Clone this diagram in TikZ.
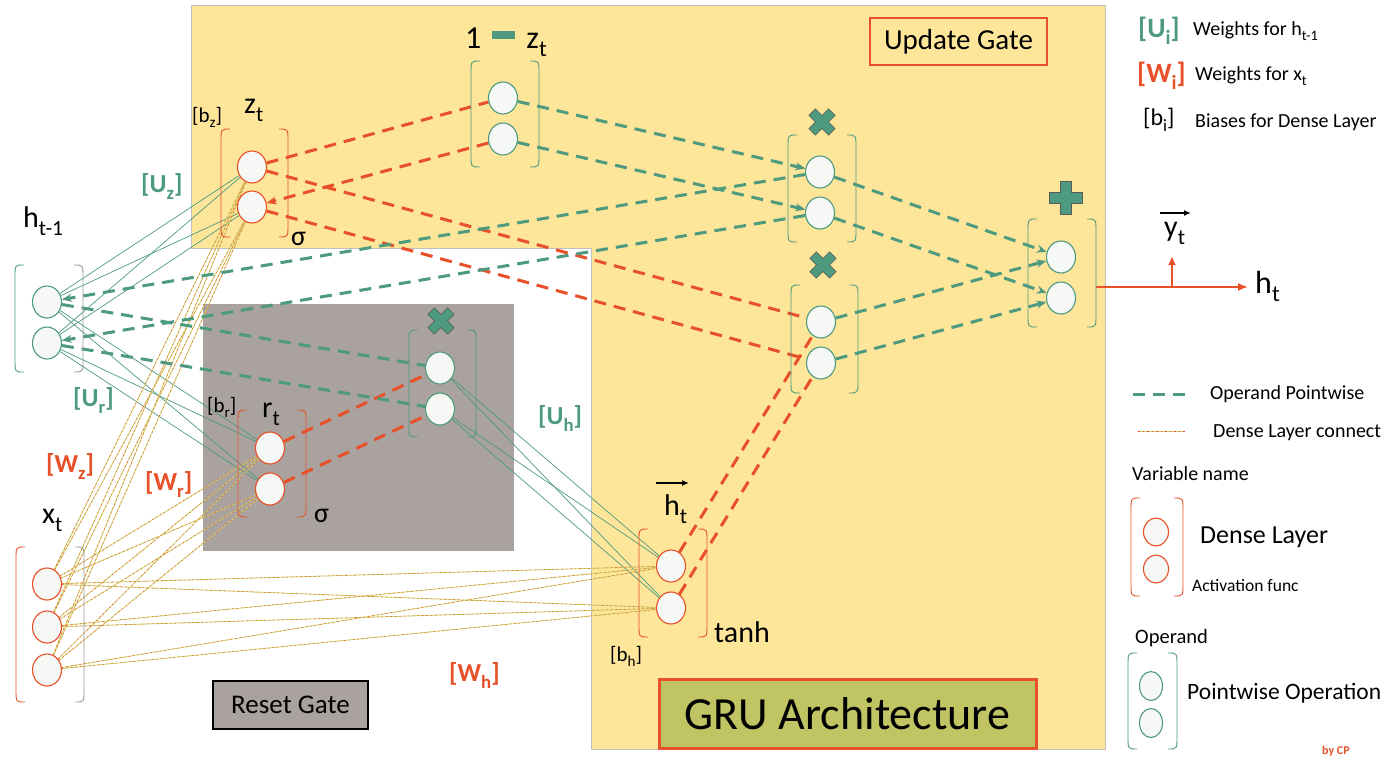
\documentclass[tikz,border=0pt]{standalone}
\usepackage{fontspec}
\setmainfont{Carlito}
\usepackage{graphicx}
\usetikzlibrary{shapes.geometric,arrows.meta}
\pgfdeclarelayer{bg}
\pgfdeclarelayer{lines}
\pgfsetlayers{bg,lines,main}
\definecolor{ylw}{HTML}{FDE59A}
\definecolor{rgray}{HTML}{A9A29F}
\definecolor{gr}{HTML}{4E9A7E}
\definecolor{rd}{HTML}{E8502A}
\definecolor{cellf}{HTML}{F5F8F4}
\definecolor{olivey}{HTML}{D2CC62}
\definecolor{gruf}{HTML}{C0C462}
\definecolor{brgray}{HTML}{9A9A9A}
\newcommand\sub[1]{\raisebox{-0.27em}{\scalebox{0.72}{#1}}}
\newcommand\fsz[1]{\fontsize{#1pt}{#1pt}\selectfont}
\newcommand\brL[4]{\draw[#4, line width=0.9pt] (#1+9,#2) .. controls (#1,#2) .. (#1,#2+12) -- (#1,#3-12) .. controls (#1,#3) .. (#1+9,#3);}
\newcommand\brR[4]{\draw[#4, line width=0.9pt] (#1-9,#2) .. controls (#1,#2) .. (#1,#2+12) -- (#1,#3-12) .. controls (#1,#3) .. (#1-9,#3);}
\newcommand\pbrack[5]{\brL{#1}{#3}{#4}{#5}\brR{#2}{#3}{#4}{#5}}
\newcommand\gcross[4]{\filldraw[fill=gr, draw=black!65, line width=0.6pt, shift={(#1,#2)}, rotate=#3]
 (-#4*0.33,-#4) -- (#4*0.33,-#4) -- (#4*0.33,-#4*0.33) -- (#4,-#4*0.33) -- (#4,#4*0.33) -- (#4*0.33,#4*0.33) -- (#4*0.33,#4) -- (-#4*0.33,#4) -- (-#4*0.33,#4*0.33) -- (-#4,#4*0.33) -- (-#4,-#4*0.33) -- (-#4*0.33,-#4*0.33) -- cycle;}
\tikzset{
 cell/.style={ellipse, draw, fill=cellf, minimum width=29pt, minimum height=32pt, inner sep=0pt, line width=1.1pt},
 gcell/.style={cell, draw=gr},
 rcell/.style={cell, draw=rd},
 gdash/.style={draw=gr, line width=3pt, dash pattern=on 12pt off 8pt},
 rdash/.style={draw=rd, line width=3pt, dash pattern=on 12pt off 8pt},
 endtip/.style={-{Stealth[length=10pt,width=8pt]}},
 gthin/.style={draw=gr, line width=0.7pt},
 xline/.style={draw=olivey, line width=0.8pt, postaction={draw=rd, line width=0.45pt, dash pattern=on 1.5pt off 3pt}},
 vecarrow/.style={draw=black, line width=1.4pt, -{Latex[length=7pt,width=6pt]}},
 lbl/.style={anchor=base west, inner sep=0pt},
}
\begin{document}
\begin{tikzpicture}[x=1pt,y=-1pt]
\useasboundingbox (0,0) rectangle (1400,771);
\begin{pgfonlayer}{bg}
\fill[white] (0,0) rectangle (1400,771);
\filldraw[fill=ylw, draw=black!25, line width=0.6pt] (191,5) -- (1105,5) -- (1105,749) -- (591,749) -- (591,248) -- (191,248) -- cycle;
\fill[rgray] (203,304) rectangle (514,551);
\end{pgfonlayer}

% boxes
\node[draw=rd, line width=1.8pt, fill=ylw, minimum width=177pt, minimum height=47pt, font=\fsz{29}] (ugate) at (958.5,41.5) {Update Gate};
\node[draw=rd, line width=3pt, fill=gruf, minimum width=377pt, minimum height=69pt, font=\fsz{46}] (grubox) at (847.5,713.5) {GRU Architecture\hspace{16pt}};
\node[draw=black, line width=2pt, fill=rgray, minimum width=155pt, minimum height=48pt, font=\fsz{27}] (rgate) at (290.5,705) {Reset Gate};

% brackets
\brL{15}{265}{372}{gr}\brR{83}{265}{372}{brgray}
\brL{16}{547}{702}{rd}\brR{84}{547}{702}{brgray}
\pbrack{221}{288}{129}{237}{rd}
\pbrack{471}{539}{61}{167}{gr}
\pbrack{409}{476}{330}{437}{gr}
\pbrack{238}{306}{410}{517}{rd}
\pbrack{788}{856}{135}{242}{gr}
\pbrack{791}{858}{285}{393}{gr}
\pbrack{1028}{1096}{219}{327}{gr}
\pbrack{639}{707}{529}{637}{rd}
\pbrack{1131}{1183}{498}{596}{rd}
\pbrack{1128}{1177}{653}{749}{gr}

% cells
\node[gcell] (h1) at (47,302) {};
\node[gcell] (h2) at (47,343) {};
\node[rcell] (x1) at (47,584) {};
\node[rcell] (x2) at (47,627) {};
\node[rcell] (x3) at (47,670) {};
\node[rcell] (z1) at (252,167) {};
\node[rcell] (z2) at (252,207) {};
\node[gcell] (oz1) at (503,98) {};
\node[gcell] (oz2) at (503,139) {};
\node[gcell] (m1) at (440,368) {};
\node[gcell] (m2) at (440,409) {};
\node[rcell] (r1) at (270,448) {};
\node[rcell] (r2) at (270,489) {};
\node[gcell] (um1) at (820,172) {};
\node[gcell] (um2) at (820,213) {};
\node[gcell] (lm1) at (821,322) {};
\node[gcell] (lm2) at (821,363) {};
\node[gcell] (p1) at (1061,257) {};
\node[gcell] (p2) at (1061,298) {};
\node[rcell] (c1) at (671,566) {};
\node[rcell] (c2) at (671,608) {};
\node[rcell, minimum width=25pt, minimum height=28pt] (lg1) at (1156,532) {};
\node[rcell, minimum width=25pt, minimum height=28pt] (lg2) at (1156,569) {};
\node[gcell, minimum width=23pt, minimum height=29pt] (lo1) at (1151,686) {};
\node[gcell, minimum width=23pt, minimum height=29pt] (lo2) at (1151,723) {};

% operator symbols
\gcross{441}{321}{45}{14}
\gcross{822}{122}{45}{14}
\gcross{823}{265}{45}{14}
\gcross{1066}{198}{0}{16.5}

% labels
\node[lbl, font=\fsz{30}] (lht1) at (23,227) {h\sub{t-1}};
\node[lbl, font=\fsz{30}] (lxt) at (42,523) {x\sub{t}};
\node[lbl, font=\fsz{30}] (lzt) at (244,113) {z\sub{t}};
\node[lbl, font=\fsz{21}] (lbz) at (192,122) {[b\sub{z}]};
\node[lbl, font=\fsz{28}] (lsz) at (291,245) {σ};
\node[lbl, font=\fsz{32}] (loz) at (465,48) {1\hspace{11pt}\textcolor{gr}{\rule[9pt]{23pt}{8pt}}\hspace{11pt}z\sub{t}};
\node[lbl, font=\fsz{26}\bfseries, text=gr] (luz) at (141,192) {[U\sub{z}]};
\node[lbl, font=\fsz{26}\bfseries, text=gr] (lur) at (73,406) {[U\sub{r}]};
\node[lbl, font=\fsz{26}\bfseries, text=rd] (lwz) at (46,472) {[W\sub{z}]};
\node[lbl, font=\fsz{26}\bfseries, text=rd] (lwr) at (145,490) {[W\sub{r}]};
\node[lbl, font=\fsz{21}] (lbr) at (207,412) {[b\sub{r}]};
\node[lbl, font=\fsz{30}] (lrt) at (262,417) {r\sub{t}};
\node[lbl, font=\fsz{28}] (lsr) at (314,522) {σ};
\node[lbl, font=\fsz{26}\bfseries, text=gr] (luh) at (538,424) {[U\sub{h}]};
\node[lbl, font=\fsz{30}] (lct) at (664,515) {h\sub{t}};
\node[lbl, font=\fsz{30}] (ltanh) at (714,642) {tanh};
\node[lbl, font=\fsz{21}] (lbh) at (610,661) {[b\sub{h}]};
\node[lbl, font=\fsz{26}\bfseries, text=rd] (lwh) at (449,681) {[W\sub{h}]};
\node[lbl, font=\fsz{30}] (yt) at (1164,236) {y\sub{t}};
\node[lbl, font=\fsz{32}] (ht) at (1255,293) {h\sub{t}};

% legend
\node[lbl, font=\fsz{28}\bfseries, text=gr] (lui) at (1138,37) {[U\sub{i}]};
\node[lbl, font=\fsz{20}] (lui2) at (1193,35) {Weights for h\sub{t-1}};
\node[lbl, font=\fsz{28}\bfseries, text=rd] (lwi) at (1137,82) {[W\sub{i}]};
\node[lbl, font=\fsz{20}] (lwi2) at (1195,80) {Weights for x\sub{t}};
\node[lbl, font=\fsz{24}] (lbi) at (1143,125) {[b\sub{i}]};
\node[lbl, font=\fsz{20}] (lbi2) at (1195,127) {Biases for Dense Layer};
\node[lbl, font=\fsz{20}] (lop) at (1210,399) {Operand Pointwise};
\node[lbl, font=\fsz{20}] (ldl) at (1213,437) {Dense Layer connect};
\node[lbl, font=\fsz{20}] (lvn) at (1132,480) {Variable name};
\node[lbl, font=\fsz{26}] (ldense) at (1200,543) {Dense Layer};
\node[lbl, font=\fsz{17.5}] (lact) at (1192,591) {Activation func};
\node[lbl, font=\fsz{20.5}] (loper) at (1135,643) {Operand};
\node[lbl, font=\fsz{23.5}] (lpw) at (1187,699) {Pointwise Operation};
\node[lbl, font=\fsz{12}\bfseries, text=rd] (lcp) at (1322,754) {by CP};
\coordinate (lgd1) at (1133,394);
\coordinate (lgd2) at (1187,394);
\coordinate (lgt1) at (1138,431);
\coordinate (lgt2) at (1185,431);
\coordinate (pout) at (1096,287);
\coordinate (yb) at (1172,287);
\coordinate (ytip) at (1172,256);
\coordinate (hva) at (656,483);
\coordinate (hvb) at (689,483);
\coordinate (yva) at (1160,213);
\coordinate (yvb) at (1191,213);
\draw[vecarrow] (hva) -- (hvb);
\draw[vecarrow] (yva) -- (yvb);

\begin{pgfonlayer}{lines}
\foreach \a in {h1,h2}{\foreach \b in {z1,z2,r1,r2}{\draw[gthin] (\a) -- (\b);}}
\foreach \a in {m1,m2}{\foreach \b in {c1,c2}{\draw[gthin] (\a) -- (\b);}}
\foreach \a in {x1,x2,x3}{\foreach \b in {z1,z2,r1,r2,c1,c2}{\draw[xline] (\a) -- (\b);}}
\draw[rdash] (z1) -- (oz1);
\draw[rdash, endtip] (oz2) -- (z2);
\draw[rdash] (z1) -- (lm1);
\draw[rdash] (z2) -- (lm2);
\draw[rdash] (r1) -- (m1);
\draw[rdash] (r2) -- (m2);
\draw[rdash] (c1) -- (lm1);
\draw[rdash] (c2) -- (lm2);
\draw[gdash, endtip] (um1) -- (h1);
\draw[gdash, endtip] (um2) -- (h2);
\draw[gdash] (h1) -- (m1);
\draw[gdash] (h2) -- (m2);
\draw[gdash, endtip] (oz1) -- (um1);
\draw[gdash, endtip] (oz2) -- (um2);
\draw[gdash, endtip] (um1) -- (p1);
\draw[gdash, endtip] (um2) -- (p2);
\draw[gdash, endtip] (lm1) -- (p1);
\draw[gdash, endtip] (lm2) -- (p2);
\draw[gdash] (lgd1) -- (lgd2);
\draw[xline] (lgt1) -- (lgt2);
\draw[rd, line width=1.8pt, -{Latex[length=10pt,width=8pt]}, shorten >=7pt] (pout) -- (pout -| ht.west);
\draw[rd, line width=1.8pt, -{Latex[length=9pt,width=8pt]}] (yb) -- (ytip);
\end{pgfonlayer}
\end{tikzpicture}
\end{document}
